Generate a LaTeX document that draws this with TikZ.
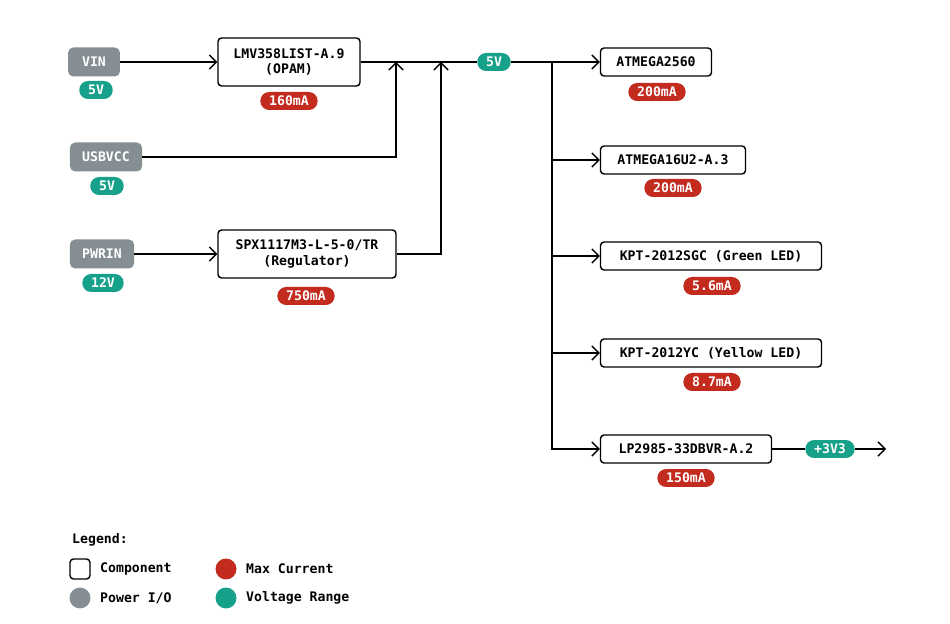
\documentclass[tikz,border=0pt]{standalone}
\usepackage{fontspec}
\setmainfont{DejaVu Sans Mono}
\usetikzlibrary{positioning,arrows.meta}
\definecolor{pwrgray}{HTML}{858F93}
\definecolor{voltteal}{HTML}{17A08A}
\definecolor{curred}{HTML}{C22B1E}
\tikzset{
  comp/.style = {draw, thick, rounded corners=2pt, fill=white, font=\bfseries\fontsize{7.5}{9}\selectfont, align=center, inner sep=3pt},
  pio/.style = {fill=pwrgray, text=white, rounded corners=3pt, font=\bfseries\fontsize{7.5}{9}\selectfont, minimum height=0.58cm, minimum width=1.04cm, inner xsep=7pt},
  volt/.style = {fill=voltteal, text=white, rounded corners=5pt, font=\bfseries\fontsize{7.5}{9}\selectfont, minimum height=0.36cm, inner xsep=5pt, inner ysep=1pt},
  amp/.style = {fill=curred, text=white, rounded corners=5pt, font=\bfseries\fontsize{7.5}{9}\selectfont, minimum height=0.36cm, inner xsep=5pt, inner ysep=1pt},
  wire/.style = {thick, -{Straight Barb[length=4pt]}},
  lgd/.style = {font=\bfseries\fontsize{7.5}{9}\selectfont, anchor=west}
}
\begin{document}
\begin{tikzpicture}[x = 0.02cm, y = -0.02cm]
	\useasboundingbox (0,0) rectangle (950,624);
	% power inputs
	\node[pio] (VIN) at (94,62) {VIN};
	\node[volt] (VINv) at (96,90) {5V};
	\node[pio] (USB) at (106,157) {USBVCC};
	\node[volt] (USBv) at (107,186) {5V};
	\node[pio] (PWR) at (102,254) {PWRIN};
	\node[volt] (PWRv) at (103,283) {12V};
	% opamp and regulator
	\node[comp, minimum width=2.84cm, minimum height=0.96cm] (OPAM) at (289,62) {LMV358LIST-A.9\\(OPAM)};
	\node[amp] (OPAMa) at (289,101) {160mA};
	\node[comp, minimum width=3.56cm, minimum height=0.96cm] (REG) at (307,254) {SPX1117M3-L-5-0/TR\\(Regulator)};
	\node[amp] (REGa) at (306,296) {750mA};
	\node[volt] (V5) at (494,62) {5V};
	% loads
	\node[comp, minimum width=2.22cm, minimum height=0.56cm] (MEGA) at (656,62) {ATMEGA2560};
	\node[amp] (MEGAa) at (657,92) {200mA};
	\node[comp, minimum width=2.9cm, minimum height=0.56cm] (U2) at (673,160) {ATMEGA16U2-A.3};
	\node[amp] (U2a) at (673,188) {200mA};
	\node[comp, minimum width=4.42cm, minimum height=0.56cm] (GLED) at (711,256) {KPT-2012SGC (Green LED)};
	\node[amp] (GLEDa) at (712,286) {5.6mA};
	\node[comp, minimum width=4.42cm, minimum height=0.56cm] (YLED) at (711,353) {KPT-2012YC (Yellow LED)};
	\node[amp] (YLEDa) at (712,382) {8.7mA};
	\node[comp, minimum width=3.42cm, minimum height=0.56cm] (LDO) at (686,449) {LP2985-33DBVR-A.2};
	\node[amp] (LDOa) at (686,478) {150mA};
	\node[volt] (V33) at (830,449) {+3V3};
	\coordinate (OUT) at (886,449);
	\coordinate (BUS) at (552,62);
	% wires
	\draw[wire] (VIN) -- (OPAM);
	\draw[wire] (PWR) -- (REG);
	\draw[thick] (OPAM) -- (V5);
	\draw[wire] (USB.east) -| (396,62);
	\draw[wire] (REG.east) -| (441,62);
	\draw[thick] (V5) -- (BUS);
	\draw[wire] (BUS) -- (MEGA);
	\draw[wire] (BUS) |- (U2);
	\draw[wire] (BUS) |- (GLED);
	\draw[wire] (BUS) |- (YLED);
	\draw[wire] (BUS) |- (LDO);
	\draw[thick] (LDO) -- (V33);
	\draw[wire] (V33) -- (OUT);
	% legend
	\node[lgd] (LEG) at (66,540) {Legend:};
	\node[draw, thick, rounded corners=2pt, minimum size=0.4cm] (LC) at (80,569) {};
	\node[lgd] at (94,569) {Component};
	\node[circle, fill=pwrgray, minimum size=0.42cm] (LP) at (80,598) {};
	\node[lgd] at (94,598) {Power I/O};
	\node[circle, fill=curred, minimum size=0.42cm] (LM) at (226,569) {};
	\node[lgd] at (240,569) {Max Current};
	\node[circle, fill=voltteal, minimum size=0.42cm] (LV) at (226,598) {};
	\node[lgd] at (240,598) {Voltage Range};
\end{tikzpicture}
\end{document}
